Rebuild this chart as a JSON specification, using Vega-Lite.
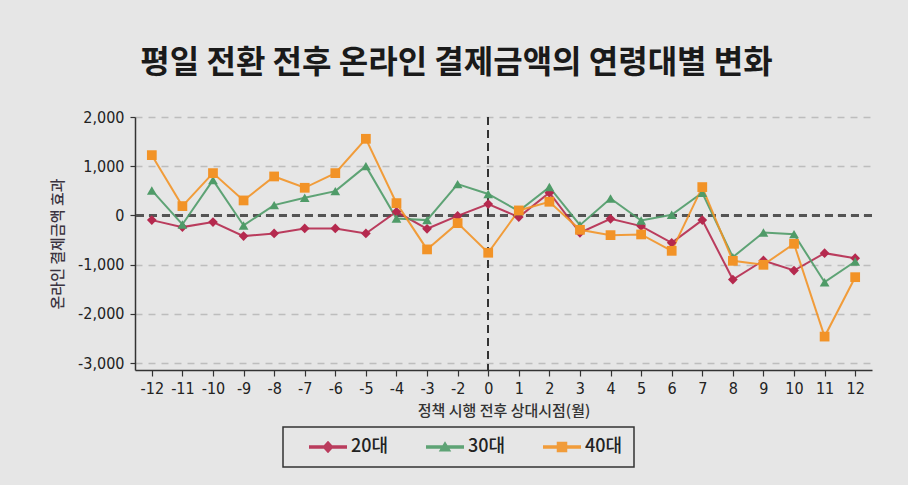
{
  "$schema": "https://vega.github.io/schema/vega-lite/v6.json",
  "width": 737,
  "height": 253,
  "autosize": "none",
  "padding": {"left": 135, "top": 117, "right": 36, "bottom": 115},
  "background": "#e6e6e6",
  "title": {
    "text": "평일 전환 전후 온라인 결제금액의 연령대별 변화",
    "font": "Noto Sans CJK KR",
    "fontSize": 32,
    "fontWeight": 700,
    "color": "#1a1a1a",
    "anchor": "middle",
    "dx": -47,
    "offset": 29
  },
  "config": {
    "view": {"stroke": null},
    "legend": {"strokeWidth": 1.5}
  },
  "data": {
    "values": [
      {"m": -12, "g": "20대", "v": -95}, {"m": -11, "g": "20대", "v": -237}, {"m": -10, "g": "20대", "v": -135},
      {"m": -9, "g": "20대", "v": -420}, {"m": -8, "g": "20대", "v": -366}, {"m": -7, "g": "20대", "v": -264},
      {"m": -6, "g": "20대", "v": -264}, {"m": -5, "g": "20대", "v": -366}, {"m": -4, "g": "20대", "v": 74},
      {"m": -3, "g": "20대", "v": -271}, {"m": -2, "g": "20대", "v": -10}, {"m": 0, "g": "20대", "v": 230},
      {"m": 1, "g": "20대", "v": -34}, {"m": 2, "g": "20대", "v": 461}, {"m": 3, "g": "20대", "v": -352},
      {"m": 4, "g": "20대", "v": -68}, {"m": 5, "g": "20대", "v": -217}, {"m": 6, "g": "20대", "v": -556},
      {"m": 7, "g": "20대", "v": -95}, {"m": 8, "g": "20대", "v": -1302}, {"m": 9, "g": "20대", "v": -915},
      {"m": 10, "g": "20대", "v": -1119}, {"m": 11, "g": "20대", "v": -766}, {"m": 12, "g": "20대", "v": -868},
      {"m": -12, "g": "30대", "v": 508}, {"m": -11, "g": "30대", "v": -183}, {"m": -10, "g": "30대", "v": 718},
      {"m": -9, "g": "30대", "v": -203}, {"m": -8, "g": "30대", "v": 210}, {"m": -7, "g": "30대", "v": 359},
      {"m": -6, "g": "30대", "v": 494}, {"m": -5, "g": "30대", "v": 1002}, {"m": -4, "g": "30대", "v": -61},
      {"m": -3, "g": "30대", "v": -95}, {"m": -2, "g": "30대", "v": 636}, {"m": 0, "g": "30대", "v": 437},
      {"m": 1, "g": "30대", "v": 88}, {"m": 2, "g": "30대", "v": 576}, {"m": 3, "g": "30대", "v": -197},
      {"m": 4, "g": "30대", "v": 346}, {"m": 5, "g": "30대", "v": -102}, {"m": 6, "g": "30대", "v": 14},
      {"m": 7, "g": "30대", "v": 461}, {"m": 8, "g": "30대", "v": -847}, {"m": 9, "g": "30대", "v": -346},
      {"m": 10, "g": "30대", "v": -380}, {"m": 11, "g": "30대", "v": -1356}, {"m": 12, "g": "30대", "v": -936},
      {"m": -12, "g": "40대", "v": 1225}, {"m": -11, "g": "40대", "v": 190}, {"m": -10, "g": "40대", "v": 860},
      {"m": -9, "g": "40대", "v": 305}, {"m": -8, "g": "40대", "v": 792}, {"m": -7, "g": "40대", "v": 562},
      {"m": -6, "g": "40대", "v": 860}, {"m": -5, "g": "40대", "v": 1557}, {"m": -4, "g": "40대", "v": 250},
      {"m": -3, "g": "40대", "v": -690}, {"m": -2, "g": "40대", "v": -156}, {"m": 0, "g": "40대", "v": -758},
      {"m": 1, "g": "40대", "v": 102}, {"m": 2, "g": "40대", "v": 278}, {"m": 3, "g": "40대", "v": -292},
      {"m": 4, "g": "40대", "v": -400}, {"m": 5, "g": "40대", "v": -386}, {"m": 6, "g": "40대", "v": -719},
      {"m": 7, "g": "40대", "v": 576}, {"m": 8, "g": "40대", "v": -922}, {"m": 9, "g": "40대", "v": -1003},
      {"m": 10, "g": "40대", "v": -576}, {"m": 11, "g": "40대", "v": -2461}, {"m": 12, "g": "40대", "v": -1254}
    ]
  },
  "encoding": {
    "x": {
      "field": "m",
      "type": "ordinal",
      "scale": {"type": "point", "padding": 0.55, "domain": [-12, -11, -10, -9, -8, -7, -6, -5, -4, -3, -2, 0, 1, 2, 3, 4, 5, 6, 7, 8, 9, 10, 11, 12]},
      "axis": {
        "title": "정책 시행 전후 상대시점(월)",
        "titleFont": "Noto Sans CJK KR",
        "titleFontSize": 15,
        "titleFontWeight": 500,
        "titleColor": "#333333",
        "titlePadding": 7,
        "labelFont": "Liberation Sans Narrow, DejaVu Sans Condensed, sans-serif",
        "labelFontSize": 16,
        "labelColor": "#222222",
        "labelAngle": 0,
        "labelPadding": 4,
        "tickSize": 6,
        "tickColor": "#333333",
        "tickWidth": 1.2,
        "domainColor": "#333333",
        "domainWidth": 1.5,
        "grid": false
      }
    },
    "y": {
      "field": "v",
      "type": "quantitative",
      "scale": {"domain": [-3140, 2000], "nice": false, "zero": false},
      "axis": {
        "title": "온라인 결제금액 효과",
        "titleFont": "Noto Sans CJK KR",
        "titleFontSize": 15,
        "titleFontWeight": 500,
        "titleColor": "#3a3340",
        "titlePadding": 12,
        "values": [-3000, -2000, -1000, 0, 1000, 2000],
        "format": ",d",
        "labelExpr": "replace(datum.label, '−', '-')",
        "labelFont": "Liberation Sans Narrow, DejaVu Sans Condensed, sans-serif",
        "labelFontSize": 16,
        "labelColor": "#222222",
        "labelPadding": 6,
        "tickSize": 5,
        "tickColor": "#333333",
        "tickWidth": 1.2,
        "domainColor": "#333333",
        "domainWidth": 1.5,
        "grid": true,
        "gridColor": "#bdbdbd",
        "gridDash": [7, 6],
        "gridWidth": 1.5
      }
    },
    "color": {
      "field": "g",
      "type": "nominal",
      "scale": {"domain": ["20대", "30대", "40대"], "range": ["#b5294e", "#4f9b68", "#f29327"]},
      "legend": {
        "orient": "none",
        "legendX": 148,
        "legendY": 310,
        "direction": "horizontal",
        "title": null,
        "strokeColor": "#333333",
        "padding": 11,
        "symbolSize": 100,
        "symbolStrokeWidth": 0,
        "labelFont": "Noto Sans CJK KR",
        "labelFontSize": 18,
        "labelFontWeight": 500,
        "labelColor": "#222222",
        "labelOffset": 39,
        "columnPadding": 22
      }
    }
  },
  "layer": [
    {
      "mark": {"type": "rule", "color": "#555555", "strokeDash": [8, 5], "strokeWidth": 2},
      "encoding": {"y": {"datum": 0}, "x": null, "color": null}
    },
    {
      "mark": {"type": "rule", "color": "#333333", "strokeDash": [8, 5], "strokeWidth": 1.2},
      "encoding": {"x": {"datum": 0}, "y": null, "color": null}
    },
    {
      "mark": {"type": "line", "strokeWidth": 2, "opacity": 0.9}
    },
    {
      "transform": [{"filter": "datum.g === '20대'"}],
      "mark": {"type": "point", "filled": true, "size": 95, "opacity": 1, "shape": "diamond"}
    },
    {
      "transform": [{"filter": "datum.g === '30대'"}],
      "mark": {"type": "point", "filled": true, "size": 95, "opacity": 1, "shape": "triangle-up"}
    },
    {
      "transform": [{"filter": "datum.g === '40대'"}],
      "mark": {"type": "point", "filled": true, "size": 95, "opacity": 1, "shape": "square"}
    },
    {
      "transform": [{"filter": "false"}],
      "mark": {"type": "point", "filled": true, "opacity": 1},
      "encoding": {
        "shape": {
          "field": "g",
          "type": "nominal",
          "scale": {
            "domain": ["20대", "30대", "40대"],
            "range": [
              "M1.2,-0.35H8.8V0.35H1.2Z M5,-1.25L6.15,0L5,1.25L3.85,0Z",
              "M1.2,-0.35H8.8V0.35H1.2Z M5,-1.15L6.25,0.9L3.75,0.9Z",
              "M1.2,-0.35H8.8V0.35H1.2Z M3.95,-1.05L6.05,-1.05L6.05,1.05L3.95,1.05Z"
            ]
          },
          "legend": {"title": null}
        }
      }
    }
  ]
}
